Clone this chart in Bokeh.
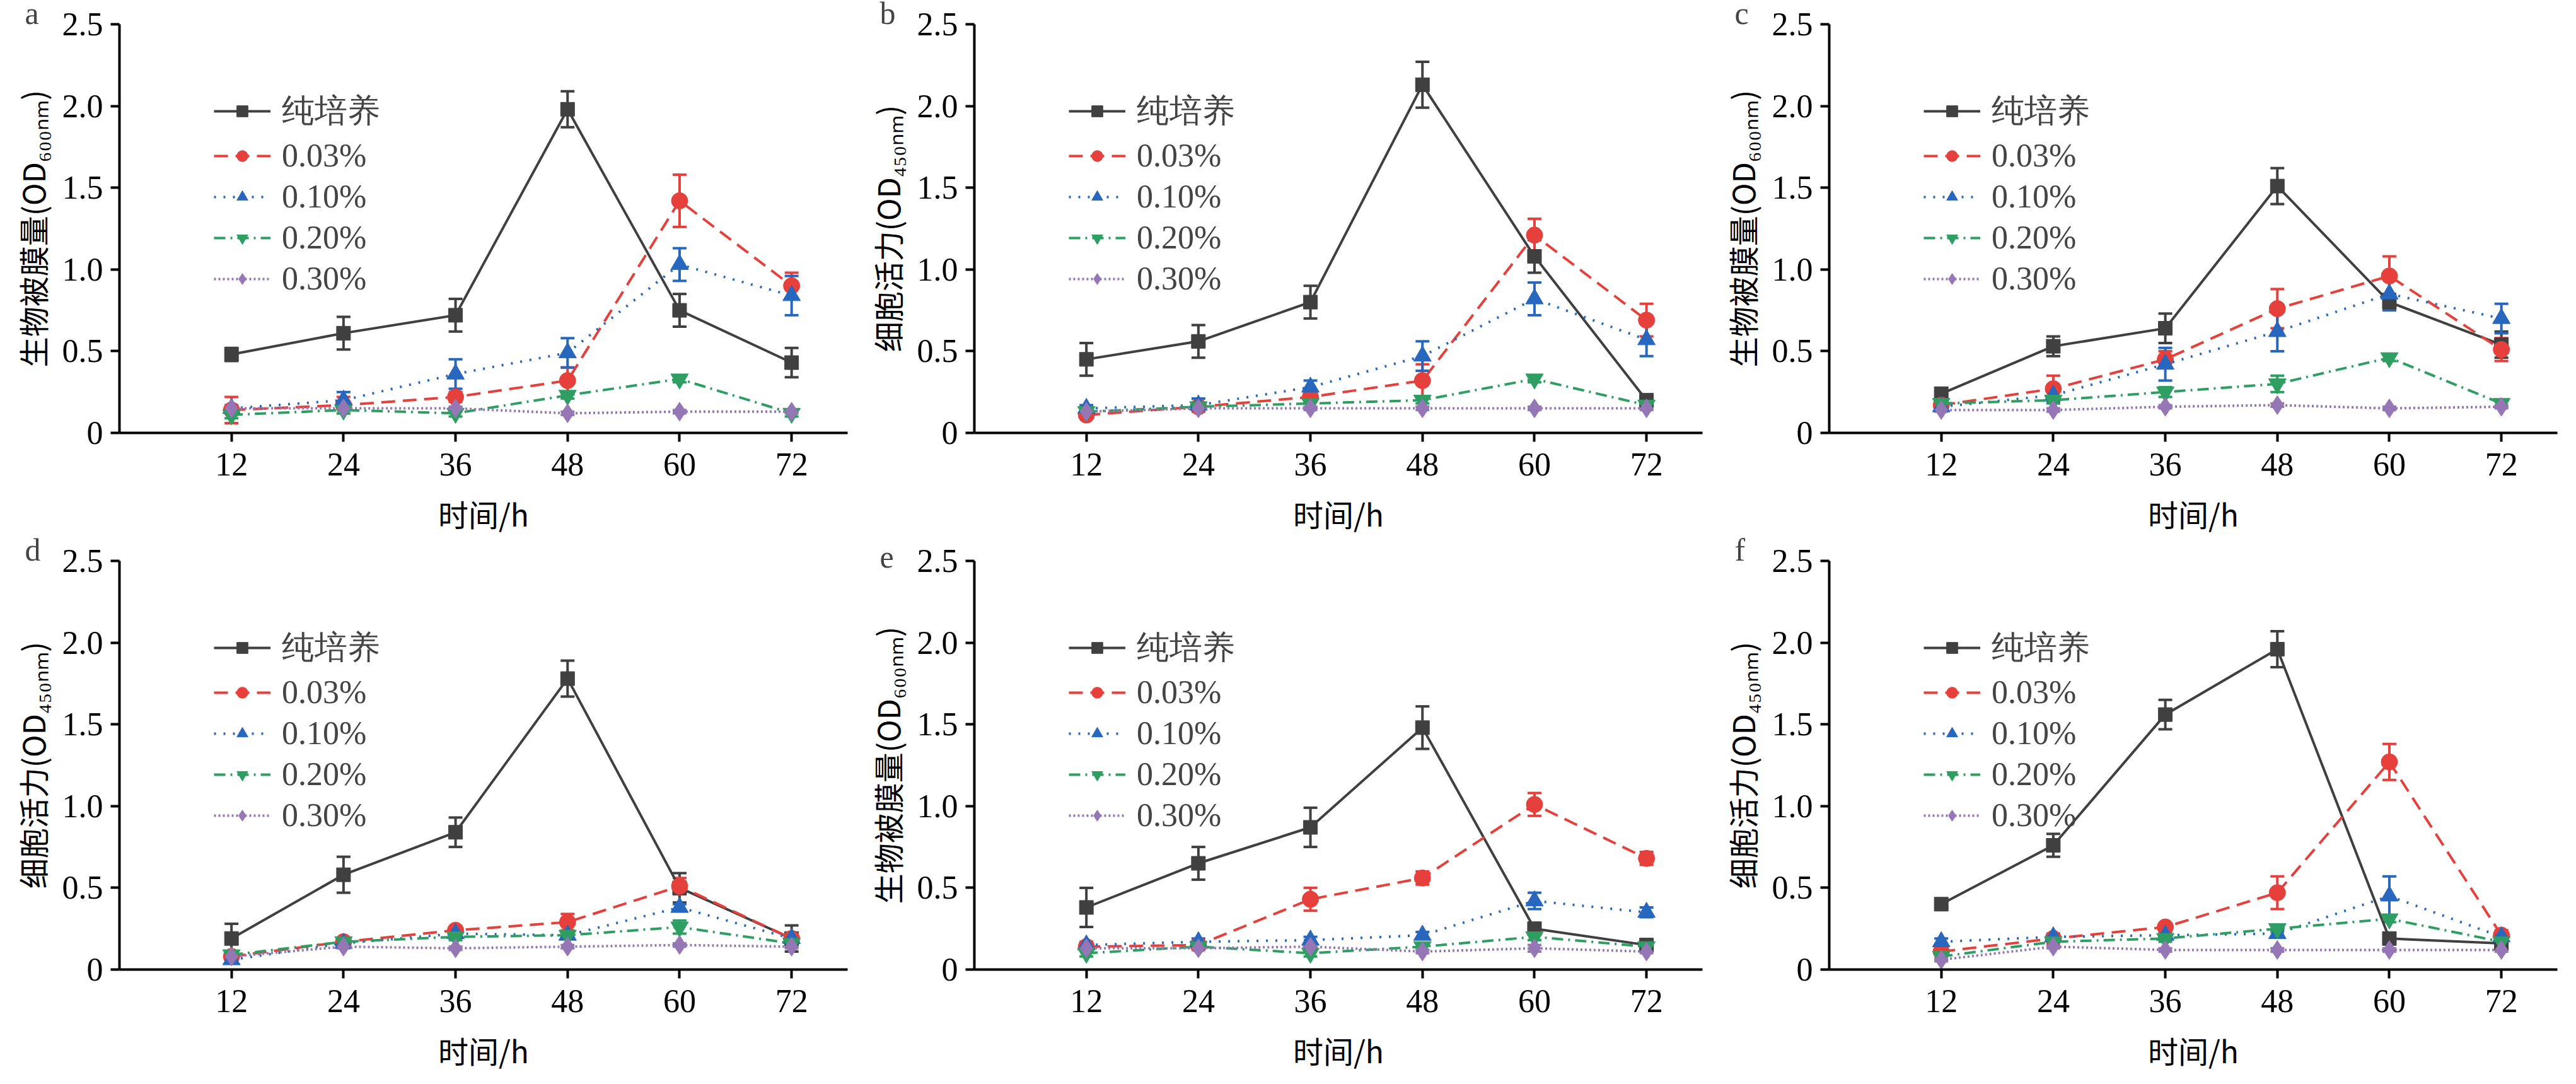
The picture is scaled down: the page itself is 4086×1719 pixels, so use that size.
from bokeh.plotting import figure
from bokeh.layouts import gridplot
from bokeh.models import (ColumnDataSource, Whisker, TeeHead, Legend, LegendItem,
                          FixedTicker)
from bokeh.embed import file_html
from bokeh.resources import INLINE

hours = [12, 24, 36, 48, 60, 72]
series_names = ["纯培养", "0.03%", "0.10%", "0.20%", "0.30%"]
panel_letters = ["a", "b", "c", "d", "e", "f"]
ylabels = ["生物被膜量(OD₆₀₀ₙₘ)", "细胞活力(OD₄₅₀ₙₘ)", "生物被膜量(OD₆₀₀ₙₘ)",
           "细胞活力(OD₄₅₀ₙₘ)", "生物被膜量(OD₆₀₀ₙₘ)", "细胞活力(OD₄₅₀ₙₘ)"]

# panel a
a_pure = [0.48, 0.61, 0.72, 1.98, 0.75, 0.43]; a_pure_e = [0.04, 0.10, 0.10, 0.11, 0.10, 0.09]
a_003 = [0.14, 0.17, 0.22, 0.32, 1.42, 0.90]; a_003_e = [0.08, 0.05, 0.03, 0.08, 0.16, 0.08]
a_010 = [0.15, 0.20, 0.36, 0.49, 1.03, 0.84]; a_010_e = [0.02, 0.05, 0.09, 0.09, 0.10, 0.12]
a_020 = [0.11, 0.14, 0.12, 0.23, 0.33, 0.12]; a_020_e = [0.02, 0.02, 0.02, 0.02, 0.02, 0.02]
a_030 = [0.15, 0.15, 0.15, 0.12, 0.13, 0.13]; a_030_e = [0.01, 0.01, 0.01, 0.01, 0.01, 0.01]
# panel b
b_pure = [0.45, 0.56, 0.80, 2.13, 1.08, 0.20]; b_pure_e = [0.10, 0.10, 0.10, 0.14, 0.10, 0.02]
b_003 = [0.11, 0.16, 0.22, 0.32, 1.21, 0.69]; b_003_e = [0.02, 0.02, 0.03, 0.10, 0.10, 0.10]
b_010 = [0.15, 0.17, 0.28, 0.47, 0.82, 0.57]; b_010_e = [0.02, 0.04, 0.04, 0.09, 0.10, 0.10]
b_020 = [0.13, 0.16, 0.18, 0.20, 0.33, 0.17]; b_020_e = [0.02, 0.02, 0.02, 0.02, 0.02, 0.02]
b_030 = [0.13, 0.15, 0.15, 0.15, 0.15, 0.15]; b_030_e = [0.01, 0.01, 0.01, 0.01, 0.01, 0.01]
# panel c
c_pure = [0.24, 0.53, 0.64, 1.51, 0.80, 0.54]; c_pure_e = [0.02, 0.06, 0.09, 0.11, 0.05, 0.08]
c_003 = [0.17, 0.27, 0.45, 0.76, 0.96, 0.51]; c_003_e = [0.02, 0.08, 0.05, 0.12, 0.12, 0.07]
c_010 = [0.16, 0.23, 0.42, 0.62, 0.85, 0.70]; c_010_e = [0.02, 0.04, 0.10, 0.12, 0.10, 0.09]
c_020 = [0.18, 0.20, 0.25, 0.30, 0.46, 0.18]; c_020_e = [0.02, 0.02, 0.03, 0.05, 0.02, 0.02]
c_030 = [0.14, 0.14, 0.16, 0.17, 0.15, 0.16]; c_030_e = [0.01, 0.01, 0.01, 0.01, 0.01, 0.01]
# panel d
d_pure = [0.19, 0.58, 0.84, 1.78, 0.50, 0.19]; d_pure_e = [0.09, 0.11, 0.09, 0.11, 0.09, 0.08]
d_003 = [0.08, 0.17, 0.24, 0.29, 0.51, 0.19]; d_003_e = [0.02, 0.02, 0.02, 0.05, 0.05, 0.02]
d_010 = [0.06, 0.16, 0.22, 0.21, 0.38, 0.19]; d_010_e = [0.02, 0.02, 0.02, 0.02, 0.02, 0.02]
d_020 = [0.09, 0.17, 0.20, 0.21, 0.26, 0.16]; d_020_e = [0.02, 0.02, 0.02, 0.02, 0.04, 0.02]
d_030 = [0.08, 0.14, 0.13, 0.14, 0.15, 0.14]; d_030_e = [0.01, 0.01, 0.01, 0.01, 0.01, 0.01]
# panel e
e_pure = [0.38, 0.65, 0.87, 1.48, 0.25, 0.15]; e_pure_e = [0.12, 0.10, 0.12, 0.13, 0.02, 0.02]
e_003 = [0.14, 0.15, 0.43, 0.56, 1.01, 0.68]; e_003_e = [0.02, 0.02, 0.07, 0.04, 0.07, 0.04]
e_010 = [0.15, 0.17, 0.18, 0.21, 0.42, 0.35]; e_010_e = [0.02, 0.02, 0.02, 0.02, 0.05, 0.03]
e_020 = [0.10, 0.14, 0.10, 0.14, 0.20, 0.14]; e_020_e = [0.02, 0.02, 0.02, 0.02, 0.02, 0.02]
e_030 = [0.13, 0.13, 0.14, 0.11, 0.13, 0.11]; e_030_e = [0.01, 0.01, 0.01, 0.01, 0.02, 0.01]
# panel f
f_pure = [0.40, 0.76, 1.56, 1.96, 0.19, 0.16]; f_pure_e = [0.02, 0.07, 0.09, 0.11, 0.02, 0.01]
f_003 = [0.11, 0.19, 0.26, 0.47, 1.27, 0.21]; f_003_e = [0.02, 0.02, 0.02, 0.10, 0.11, 0.03]
f_010 = [0.17, 0.20, 0.21, 0.22, 0.45, 0.20]; f_010_e = [0.02, 0.02, 0.02, 0.02, 0.12, 0.02]
f_020 = [0.08, 0.17, 0.19, 0.25, 0.31, 0.17]; f_020_e = [0.02, 0.02, 0.02, 0.02, 0.02, 0.02]
f_030 = [0.06, 0.14, 0.12, 0.12, 0.12, 0.12]; f_030_e = [0.01, 0.01, 0.01, 0.01, 0.01, 0.01]

panels = [
    [(a_pure, a_pure_e), (a_003, a_003_e), (a_010, a_010_e), (a_020, a_020_e), (a_030, a_030_e)],
    [(b_pure, b_pure_e), (b_003, b_003_e), (b_010, b_010_e), (b_020, b_020_e), (b_030, b_030_e)],
    [(c_pure, c_pure_e), (c_003, c_003_e), (c_010, c_010_e), (c_020, c_020_e), (c_030, c_030_e)],
    [(d_pure, d_pure_e), (d_003, d_003_e), (d_010, d_010_e), (d_020, d_020_e), (d_030, d_030_e)],
    [(e_pure, e_pure_e), (e_003, e_003_e), (e_010, e_010_e), (e_020, e_020_e), (e_030, e_030_e)],
    [(f_pure, f_pure_e), (f_003, f_003_e), (f_010, f_010_e), (f_020, f_020_e), (f_030, f_030_e)],
]

colors = ["#404040", "#e5403b", "#2767bd", "#2e9e62", "#9577b6"]
dashes = ["solid", "22 12", "3 12", "18 8 3 8", "3 4"]
markers = ["square", "circle", "triangle", "inverted_triangle", "diamond"]
msizes = [22, 26, 28, 28, 30]
SERIF = "Liberation Serif"
CJK = "Noto Sans CJK SC"

W, H = 1356, 851
figs = []
for i, data in enumerate(panels):
    p = figure(width=W, height=H, x_range=(0, 78), y_range=(0, 2.5),
               output_backend="svg", toolbar_location=None,
               min_border_left=189, min_border_right=12,
               min_border_top=10, min_border_bottom=160,
               title=panel_letters[i])
    p.title.text_font = SERIF
    p.title.text_font_size = "50px"
    p.title.text_font_style = "normal"
    p.title.align = "left"
    p.title.offset = -150
    p.title.standoff = -20
    p.grid.visible = False
    p.outline_line_color = None
    p.background_fill_color = "white"
    p.xaxis.ticker = FixedTicker(ticks=hours)
    p.yaxis.ticker = FixedTicker(ticks=[0, 0.5, 1.0, 1.5, 2.0, 2.5])
    p.yaxis.major_label_overrides = {0: "0", 0.5: "0.5", 1: "1.0", 1.5: "1.5", 2: "2.0", 2.5: "2.5"}
    for ax in (p.xaxis[0], p.yaxis[0]):
        ax.axis_line_width = 4
        ax.axis_line_color = "black"
        ax.major_tick_line_width = 4
        ax.major_tick_out = 14
        ax.major_tick_in = 0
        ax.minor_tick_line_color = None
        ax.major_label_text_font = SERIF
        ax.major_label_text_font_size = "52px"
        ax.major_label_text_color = "black"
        ax.axis_label_text_font = CJK
        ax.axis_label_text_font_style = "normal"
        ax.axis_label_text_font_size = "48px"
        ax.axis_label_text_color = "black"
    p.xaxis.major_label_standoff = 18
    p.yaxis.major_label_standoff = 12
    p.xaxis.axis_label = "时间/h"
    p.xaxis.axis_label_standoff = 22
    p.yaxis.axis_label = ylabels[i]
    p.yaxis.axis_label_standoff = 10

    items = []
    for k, (vals, errs) in enumerate(data):
        src = ColumnDataSource(dict(x=hours, y=vals,
                                    lo=[v - e for v, e in zip(vals, errs)],
                                    hi=[v + e for v, e in zip(vals, errs)]))
        w = Whisker(source=src, base="x", upper="hi", lower="lo",
                    line_color=colors[k], line_width=4,
                    upper_head=TeeHead(size=22, line_color=colors[k], line_width=4),
                    lower_head=TeeHead(size=22, line_color=colors[k], line_width=4))
        p.add_layout(w)
        ln = p.line("x", "y", source=src, line_color=colors[k], line_width=4,
                    line_dash=dashes[k])
        sc = p.scatter("x", "y", source=src, marker=markers[k], size=msizes[k],
                       fill_color=colors[k], line_color=colors[k])
        items.append(LegendItem(label=series_names[k], renderers=[ln, sc]))
    leg = Legend(items=items, location=(150, 215), background_fill_alpha=0,
                 border_line_color=None, label_text_font=SERIF,
                 label_text_font_size="52px", glyph_width=90, glyph_height=44,
                 label_height=48, spacing=6, label_standoff=18, padding=0, margin=0)
    p.add_layout(leg, "center")
    figs.append(p)

grid = gridplot([figs[0:3], figs[3:6]], toolbar_location=None)
open("out.html", "w").write(file_html(grid, INLINE))
